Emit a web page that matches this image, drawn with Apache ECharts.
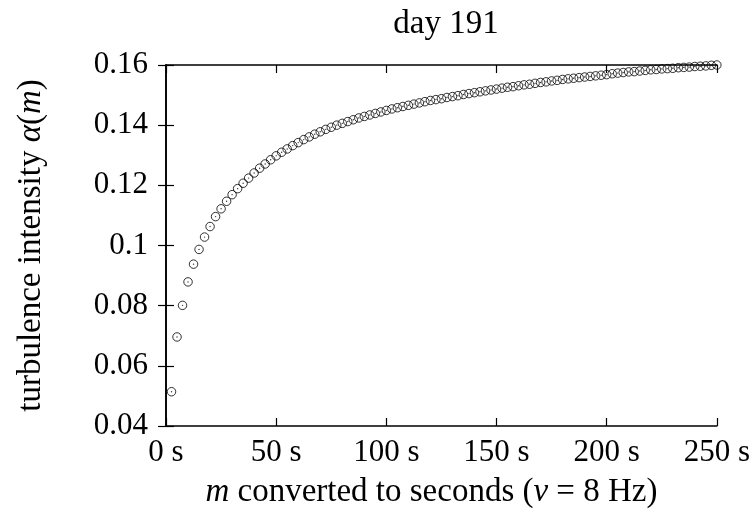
<!DOCTYPE html>
<html>
<head>
<meta charset="utf-8">
<script src="https://cdn.jsdelivr.net/npm/echarts@6/dist/echarts.min.js"></script>
<style>
  html, body { margin: 0; padding: 0; background: #fff; }
  #chart { width: 753px; height: 516px; }
</style>
</head>
<body>
<div id="chart"></div>
<script>
// lag m converted to seconds (nu = 8 Hz)
const seconds = [
  2.5, 5, 7.5, 10, 12.5, 15, 17.5, 20, 22.5, 25,
  27.5, 30, 32.5, 35, 37.5, 40, 42.5, 45, 47.5, 50,
  52.5, 55, 57.5, 60, 62.5, 65, 67.5, 70, 72.5, 75,
  77.5, 80, 82.5, 85, 87.5, 90, 92.5, 95, 97.5, 100,
  102.5, 105, 107.5, 110, 112.5, 115, 117.5, 120, 122.5, 125,
  127.5, 130, 132.5, 135, 137.5, 140, 142.5, 145, 147.5, 150,
  152.5, 155, 157.5, 160, 162.5, 165, 167.5, 170, 172.5, 175,
  177.5, 180, 182.5, 185, 187.5, 190, 192.5, 195, 197.5, 200,
  202.5, 205, 207.5, 210, 212.5, 215, 217.5, 220, 222.5, 225,
  227.5, 230, 232.5, 235, 237.5, 240, 242.5, 245, 247.5, 250
];
// turbulence intensity alpha(m)
const alpha = [
  0.0514, 0.0696, 0.0801, 0.0879, 0.0938, 0.0987, 0.1028, 0.1063, 0.1096, 0.1122,
  0.1147, 0.1169, 0.1189, 0.1207, 0.1224, 0.1241, 0.1257, 0.1271, 0.1285, 0.1298,
  0.1310, 0.1321, 0.1332, 0.1342, 0.1352, 0.1361, 0.1370, 0.1378, 0.1386, 0.1393,
  0.1400, 0.1406, 0.1412, 0.1418, 0.1424, 0.1429, 0.1434, 0.1439, 0.1444, 0.1449,
  0.1454, 0.1458, 0.1462, 0.1466, 0.1470, 0.1474, 0.1478, 0.1482, 0.1485, 0.1488,
  0.1492, 0.1495, 0.1498, 0.1502, 0.1505, 0.1508, 0.1511, 0.1514, 0.1517, 0.1520,
  0.1523, 0.1526, 0.1528, 0.1531, 0.1534, 0.1536, 0.1539, 0.1542, 0.1544, 0.1547,
  0.1549, 0.1552, 0.1554, 0.1556, 0.1558, 0.1560, 0.1562, 0.1564, 0.1566, 0.1568,
  0.1571, 0.1573, 0.1575, 0.1577, 0.1578, 0.1580, 0.1582, 0.1584, 0.1585, 0.1587,
  0.1588, 0.1589, 0.1591, 0.1592, 0.1593, 0.1595, 0.1596, 0.1597, 0.1599, 0.1600
];
const yTickLabels = ['0.04', '0.06', '0.08', '0.1', '0.12', '0.14', '0.16'];
const xTickLabels = ['0 s', '50 s', '100 s', '150 s', '200 s', '250 s'];

const FONT = '"Liberation Serif", "DejaVu Serif", serif';
const FS = 31;      // tick labels
const FS_NAME = 33; // axis titles and title
const pts = seconds.map((s, i) => [s, alpha[i]]);

const frame = {lineStyle: {color: '#000', width: 1.6}};
const ticks = {inside: true, length: 8, lineStyle: {color: '#000', width: 1.2}};
const nameRich = {
  t: {fontFamily: FONT, fontSize: FS_NAME, color: '#000'},
  i: {fontFamily: FONT, fontSize: FS_NAME, color: '#000', fontStyle: 'italic'}
};

const chart = echarts.init(document.getElementById('chart'), null, {renderer: 'canvas'});
chart.setOption({
  animation: false,
  backgroundColor: '#fff',
  title: {
    text: 'day 191',
    left: 441,
    top: 3,
    textAlign: 'center',
    textStyle: {fontFamily: FONT, fontSize: FS_NAME, fontWeight: 'normal', color: '#000'}
  },
  grid: {left: 166, right: 36, top: 65, bottom: 90},
  xAxis: [
    {
      type: 'value', min: 0, max: 250, interval: 50, position: 'bottom',
      axisLine: frame, axisTick: ticks, splitLine: {show: false},
      axisLabel: {
        fontFamily: FONT, fontSize: FS, color: '#000', margin: 11,
        formatter: v => xTickLabels[Math.round(v / 50)]
      },
      name: '{i|m}{t| converted to seconds (}{i|ν}{t| = 8 Hz)}',
      nameLocation: 'middle',
      nameGap: 50,
      nameTextStyle: {rich: nameRich, padding: [0, 20, 0, 0]}
    },
    {
      type: 'value', min: 0, max: 250, interval: 50, position: 'top',
      axisLine: frame, axisTick: ticks, axisLabel: {show: false}, splitLine: {show: false}
    }
  ],
  yAxis: [
    {
      type: 'value', min: 0.04, max: 0.16, interval: 0.02, position: 'left',
      axisLine: frame, axisTick: ticks, splitLine: {show: false},
      axisLabel: {
        fontFamily: FONT, fontSize: FS, color: '#000', margin: 18,
        formatter: v => yTickLabels[Math.round((v - 0.04) / 0.02)]
      },
      name: '{t|turbulence intensity }{i|α}{t|(}{i|m}{t|)}',
      nameLocation: 'middle',
      nameGap: 118,
      nameTextStyle: {rich: nameRich}
    },
    {
      type: 'value', min: 0.04, max: 0.16, interval: 0.02, position: 'right',
      axisLine: frame, axisTick: ticks, axisLabel: {show: false}, splitLine: {show: false}
    }
  ],
  series: [
    {
      type: 'scatter',
      data: pts,
      symbol: 'circle',
      symbolSize: 8.5,
      itemStyle: {color: 'rgba(255,255,255,0)', borderColor: '#000', borderWidth: 1}
    },
    {
      type: 'scatter',
      data: pts,
      symbol: 'circle',
      symbolSize: 1.4,
      itemStyle: {color: '#000'}
    }
  ]
});
</script>
</body>
</html>
